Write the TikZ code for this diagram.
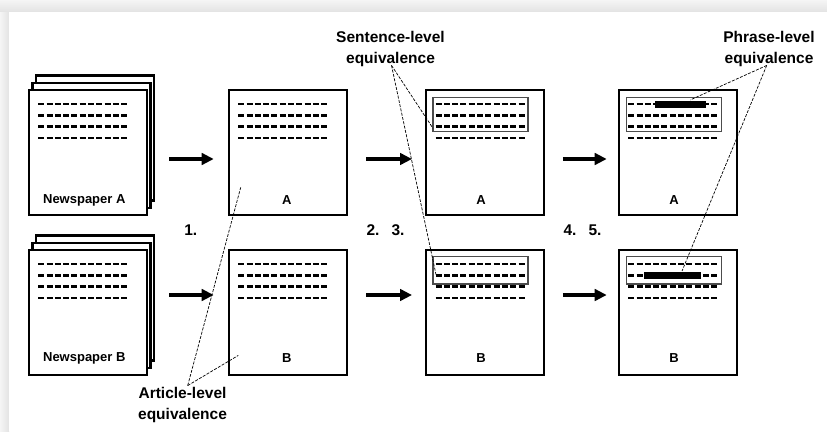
\documentclass[tikz,border=0pt]{standalone}
\usepackage{fontspec}
\setmainfont{Liberation Sans}
\usetikzlibrary{arrows.meta,calc}

\begin{document}
\begin{tikzpicture}[x=1pt,y=-1pt,
  sheet/.style={draw=black,line width=2.4pt,fill=white,inner sep=0pt,
    minimum width=118pt,minimum height=125pt,anchor=north west},
  span/.style={draw=black!70,line width=1.3pt,inner sep=0pt,anchor=north west,
    minimum width=95pt},
  bar/.style={fill=black,inner sep=0pt,anchor=north west,minimum height=7pt},
  txtline/.style={line width=2.6pt,dash pattern=on 6pt off 2.3pt},
  flow/.style={line width=3.2pt,-{Triangle[length=12pt,width=11.5pt]}},
  leader/.style={line width=0.7pt,dash pattern=on 3pt off 1.4pt},
  note/.style={font=\bfseries\fontsize{15.5}{21}\selectfont,align=center,inner sep=1pt},
  num/.style={font=\bfseries\fontsize{15.5}{18}\selectfont,inner sep=0pt},
  tag/.style={font=\bfseries\fontsize{13}{15}\selectfont,inner sep=0pt},
]
% frame
\useasboundingbox (0,0) rectangle (827,431);
\shade[top color=black!4,bottom color=black!11] (0,0) rectangle (827,12);
\shade[left color=black!4,right color=black!11] (0,12) rectangle (9,431);
\fill[white] (9,12) rectangle (827,431);

% four rows of text on a sheet
\newcommand\textrows[1]{%
  \foreach \dy in {15,26.3,37.7,49}
    \draw[txtline] ($(#1.north west)+(10.5,\dy)$) -- ++(90,0);}

% ---- newspaper stacks
\node[sheet] (npA3) at (35,74.3) {};
\node[sheet] (npA2) at (31.2,81.5) {};
\node[sheet] (npA) at (27.7,89) {};
\textrows{npA}
\node[tag] (npAt) at (84.3,200) {Newspaper A};

\node[sheet] (npB3) at (35,234.3) {};
\node[sheet] (npB2) at (31.2,241.5) {};
\node[sheet] (npB) at (27.7,249) {};
\textrows{npB}
\node[tag] (npBt) at (84.3,358.3) {Newspaper B};

% ---- aligned articles
\node[sheet] (a1) at (227.7,89) {};
\textrows{a1}
\node[tag] (a1t) at (286.7,200) {A};
\node[sheet] (b1) at (227.7,249) {};
\textrows{b1}
\node[tag] (b1t) at (286.7,358.3) {B};

% ---- aligned sentences
\node[sheet] (a2) at (425,89) {};
\node[span,minimum height=34.3pt] (inA2) at (432.3,96.7) {};
\textrows{a2}
\node[tag] (a2t) at (481,200) {A};
\node[sheet] (b2) at (425,249) {};
\node[span,minimum height=27.3pt] (inB2) at (432.3,256) {};
\textrows{b2}
\node[tag] (b2t) at (481,358.3) {B};

% ---- aligned phrases
\node[sheet] (a3) at (617.7,89) {};
\node[span,minimum height=34.3pt] (inA3) at (625.7,96.7) {};
\textrows{a3}
\node[bar,minimum width=50.7pt] (barA) at (655,101) {};
\node[tag] (a3t) at (674,200) {A};
\node[sheet] (b3) at (617.7,249) {};
\node[span,minimum height=27.3pt] (inB3) at (625.7,256) {};
\textrows{b3}
\node[bar,minimum width=57.7pt] (barB) at (643.3,271.5) {};
\node[tag] (b3t) at (674,358.3) {B};

% ---- processing arrows
\coordinate (rA) at (0,159);
\coordinate (rB) at (0,295);
\draw[flow,shorten <=21pt,shorten >=14pt] (npA.east |- rA) -- (a1.west |- rA);
\draw[flow,shorten <=18pt,shorten >=13pt] (a1.east |- rA) -- (a2.west |- rA);
\draw[flow,shorten <=17.5pt,shorten >=11pt] (a2.east |- rA) -- (a3.west |- rA);
\draw[flow,shorten <=21pt,shorten >=14pt] (npB.east |- rB) -- (b1.west |- rB);
\draw[flow,shorten <=18pt,shorten >=13pt] (b1.east |- rB) -- (b2.west |- rB);
\draw[flow,shorten <=17.5pt,shorten >=11pt] (b2.east |- rB) -- (b3.west |- rB);

% ---- step numbers
\node[num] (s1) at (190.8,230) {1.};
\node[num] (s2) at (373,230) {2.};
\node[num] (s3) at (398,230) {3.};
\node[num] (s4) at (570,230) {4.};
\node[num] (s5) at (595,230) {5.};

% ---- equivalence captions and their leaders
\node[note] (sent) at (390.5,48.5) {Sentence-level\\equivalence};
\node[note] (phr) at (769,48.5) {Phrase-level\\equivalence};
\node[note] (art) at (182.5,404.5) {Article-level\\equivalence};

\coordinate (sentO) at ($(sent.south)+(1,-2)$);
\coordinate (phrO) at ($(phr.south)+(-2.3,-2)$);
\coordinate (artO) at ($(art.north)+(5.2,0)$);

\coordinate (sA) at ($(inA2.south west)+(0.7,-4)$);
\coordinate (sB) at ($(inB2.south west)+(3.7,-10)$);
\coordinate (pA) at ($(barA.north)+(9.6,-1)$);
\coordinate (pB) at ($(barB.north)+(9.7,-0.5)$);
\coordinate (arA) at ($(a1.south west)+(13,-29)$);
\coordinate (arB) at ($(b1.south west)+(10.6,-21)$);

\draw[leader] (sentO) -- (sA);
\draw[leader] (sentO) -- (sB);
\draw[leader] (phrO) -- (pA);
\draw[leader] (phrO) -- (pB);
\draw[leader] (artO) -- (arA);
\draw[leader] (artO) -- (arB);
\end{tikzpicture}
\end{document}
